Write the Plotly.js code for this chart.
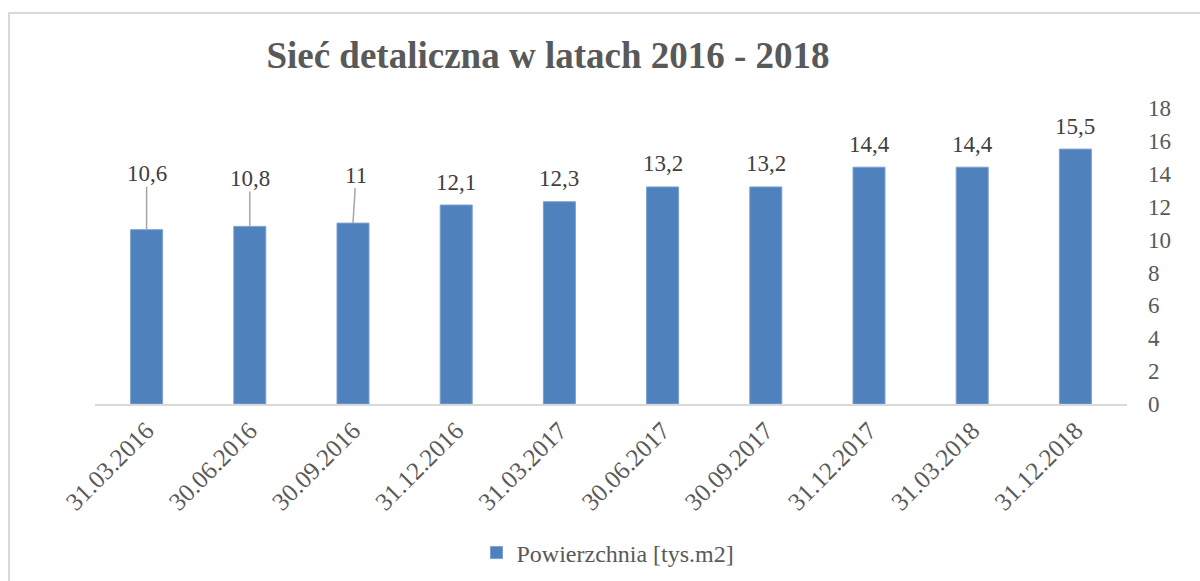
<!DOCTYPE html>
<html>
<head>
<meta charset="utf-8">
<script src="https://cdn.plot.ly/plotly-3.0.1.min.js"></script>
<style>html,body{margin:0;padding:0;background:#fff;}#chart{width:1200px;height:581px;}</style>
</head>
<body>
<div id="chart"></div>
<script>
const categories = ["31.03.2016","30.06.2016","30.09.2016","31.12.2016","31.03.2017","30.06.2017","30.09.2017","31.12.2017","31.03.2018","31.12.2018"];
const values = [10.6, 10.8, 11, 12.1, 12.3, 13.2, 13.2, 14.4, 14.4, 15.5];
const seriesName = "Powierzchnia [tys.m2]";
const chartTitle = "Sieć detaliczna w latach 2016 - 2018";
const yTicks = [0, 2, 4, 6, 8, 10, 12, 14, 16, 18];

const FONT = "Liberation Serif";
const ML = 95, MR = 73, MT = 108, MB = 177, W = 1200, H = 581;
const PW = W - ML - MR, PH = H - MT - MB;

// label leader offsets (style only)
const leader = [
  {ax: 0, ay: -56}, {ax: 0, ay: -48}, {ax: 3, ay: -48}
];

const annotations = categories.map((c, i) => {
  const txt = String(values[i]).replace('.', ',');
  const base = {x: c, y: values[i], xref: 'x', yref: 'y', text: txt,
    font: {family: FONT, size: 23, color: '#404040'}};
  if (i < leader.length) {
    return Object.assign(base, {showarrow: true, arrowhead: 0, arrowwidth: 1.5,
      arrowcolor: '#a6a6a6', ax: leader[i].ax, ay: leader[i].ay, standoff: 0, borderpad: 0});
  }
  return Object.assign(base, {showarrow: false, yanchor: 'middle', yshift: 23});
});

const trace = {
  type: 'bar', x: categories, y: values, name: seriesName,
  marker: {color: '#4f81bd', line: {color: '#7aa0d0', width: 1}},
  width: 0.31, hoverinfo: 'none'
};

const layout = {
  width: W, height: H,
  margin: {l: ML, r: MR, t: MT, b: MB, pad: 0, autoexpand: false},
  paper_bgcolor: '#ffffff', plot_bgcolor: '#ffffff',
  title: {text: chartTitle, xref: 'container', yref: 'container', x: 548 / W, xanchor: 'center',
    y: 1 - 55 / H, yanchor: 'middle',
    font: {family: FONT, size: 37, color: '#595959', weight: 'bold'}},
  xaxis: {type: 'category', tickangle: -45, showgrid: false, zeroline: false, automargin: false,
    showline: true, linecolor: '#d9d9d9', linewidth: 2, ticks: '',
    tickfont: {family: FONT, size: 25, color: '#595959'}},
  yaxis: {side: 'right', range: [0, 18], tickvals: yTicks, showgrid: false, zeroline: false,
    showline: false, ticks: '', ticklabelstandoff: 20, automargin: false,
    tickfont: {family: FONT, size: 23, color: '#595959'}},
  showlegend: true,
  legend: {orientation: 'h', x: (608 - ML) / PW, xanchor: 'center', y: (404 - 553) / PH, yanchor: 'middle',
    itemwidth: 30, font: {family: FONT, size: 24, color: '#595959'}},
  annotations: annotations,
  shapes: [{type: 'rect', xref: 'paper', yref: 'paper',
    x0: (9 - ML) / PW, x1: (1215 - ML) / PW, y0: (404 - 600) / PH, y1: (404 - 13) / PH,
    line: {color: '#d9d9d9', width: 2}, fillcolor: 'rgba(0,0,0,0)', layer: 'below'}]
};

Plotly.newPlot('chart', [trace], layout, {displayModeBar: false, staticPlot: true});
</script>
</body>
</html>
